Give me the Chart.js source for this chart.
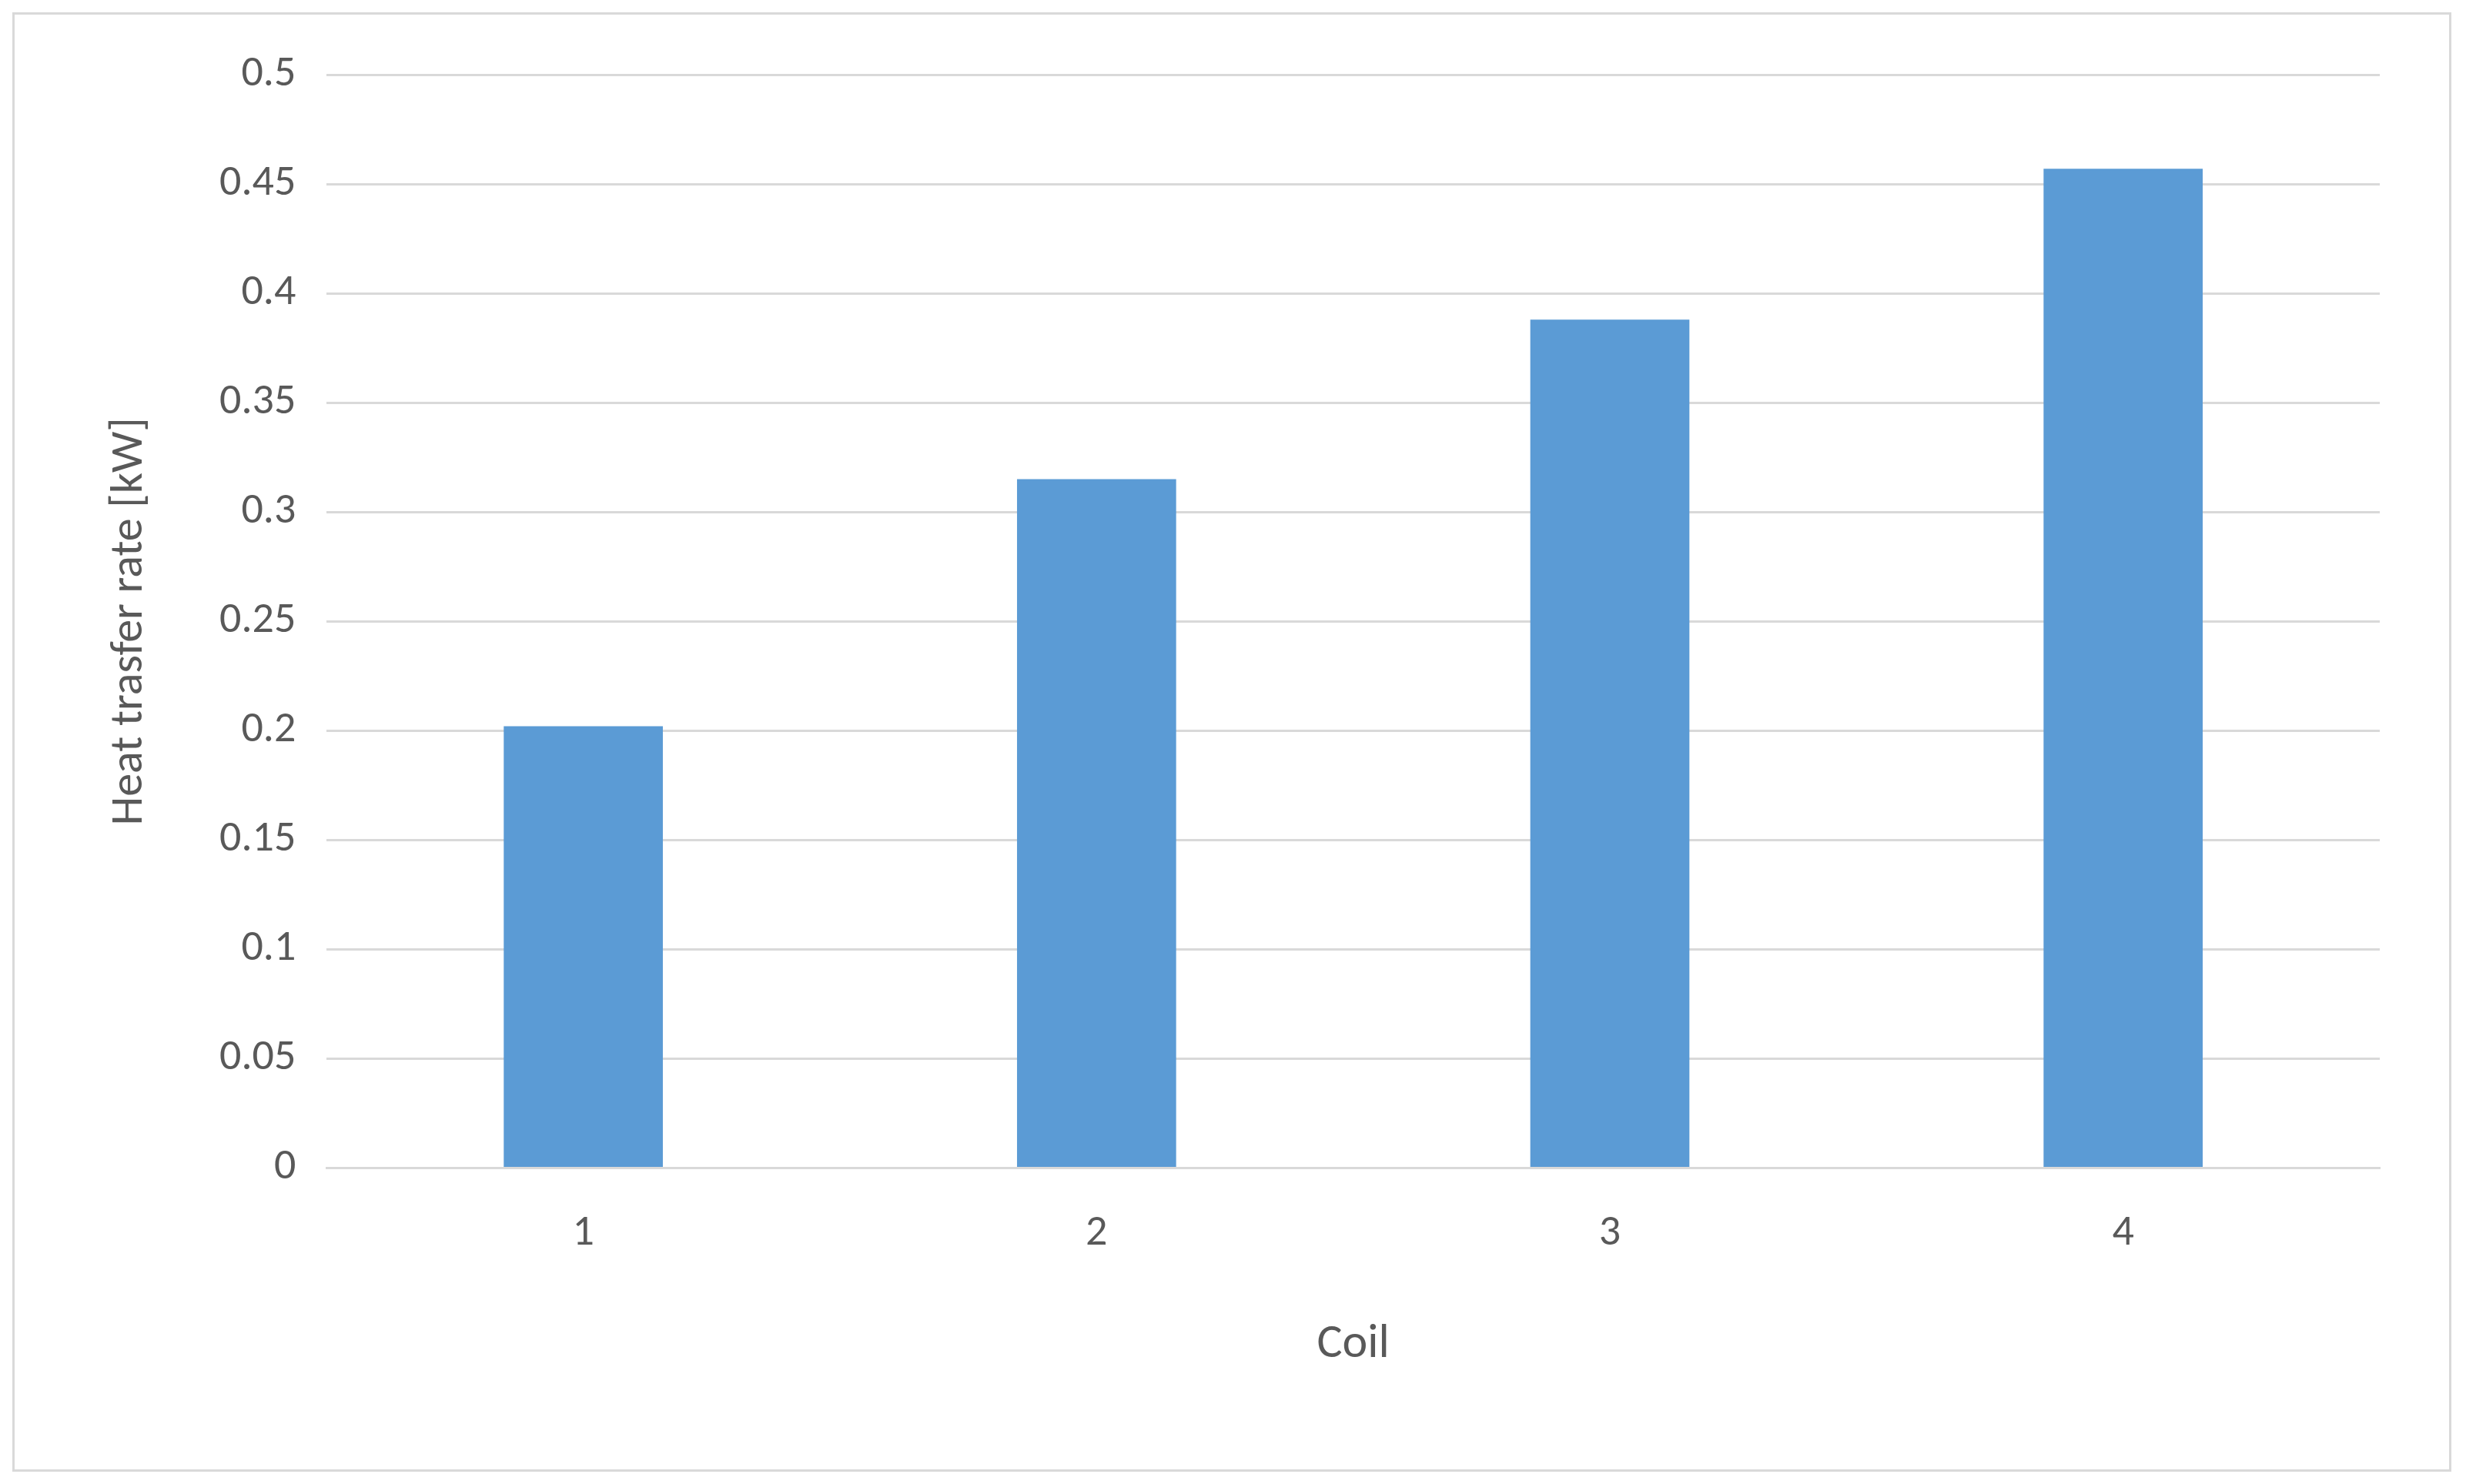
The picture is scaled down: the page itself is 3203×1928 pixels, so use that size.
<!DOCTYPE html>
<html>
<head>
<meta charset="utf-8">
<script src="https://cdn.jsdelivr.net/npm/chart.js@4"></script>
<style>
  html, body { margin: 0; padding: 0; background: #fff; }
  #wrap { position: absolute; left: 16px; top: 16px; width: 3168px; height: 1896px; border: 3px solid #d9d9d9; box-sizing: border-box; }
</style>
</head>
<body>
<div id="wrap"><canvas id="chart"></canvas></div>
<script>
const categories = ['1', '2', '3', '4'];
const heatRate = [0.202, 0.315, 0.388, 0.457];

const textColor = '#595959';
const font = { family: 'Calibri, Carlito, "Open Sans", "Liberation Sans", sans-serif', size: 56 };

new Chart(document.getElementById('chart'), {
    type: 'bar',
    data: {
        labels: categories,
        datasets: [{
            label: 'Heat trasfer rate',
            data: heatRate,
            backgroundColor: '#5B9BD5',
            barPercentage: 0.31,
            categoryPercentage: 1.0
        }]
    },
    options: {
        responsive: true,
        maintainAspectRatio: false,
        devicePixelRatio: 1,
        animation: false,
        layout: { padding: { left: 110, right: 90, top: 78, bottom: 120 } },
        plugins: { legend: { display: false }, tooltip: { enabled: false } },
        scales: {
            x: {
                grid: { display: false },
                border: { color: '#d9d9d9', width: 3 },
                ticks: { color: textColor, font: font, padding: 44 },
                title: { display: true, text: 'Coil', color: textColor, font: { ...font, size: 62 }, padding: { top: 30 } }
            },
            y: {
                min: 0, max: 0.5,
                ticks: { stepSize: 0.05, color: textColor, font: font, padding: 40,
                    callback: v => Math.round(v * 100) / 100 },
                grid: { color: '#d9d9d9', lineWidth: 3, drawTicks: false },
                border: { display: false },
                title: { display: true, text: 'Heat trasfer rate [kW]', color: textColor, font: { ...font, size: 60 }, padding: { bottom: 40 } }
            }
        }
    }
});
</script>
</body>
</html>
